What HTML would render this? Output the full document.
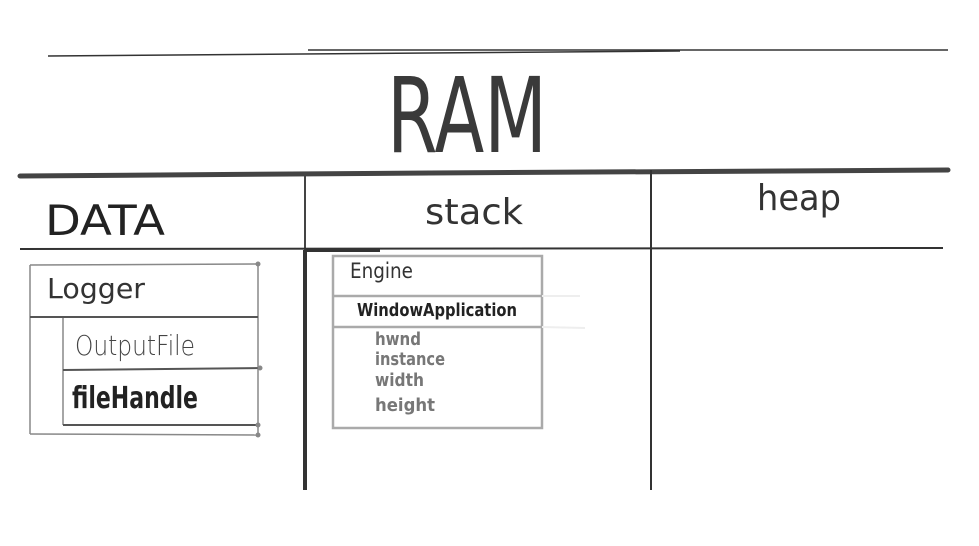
<!DOCTYPE html>
<html><head><meta charset="utf-8"><style>
html,body{margin:0;padding:0;background:#fff;}
svg{display:block;}
text{font-family:"DejaVu Sans","Liberation Sans",sans-serif;}
</style></head><body>
<svg width="979" height="546" viewBox="0 0 979 546" xmlns="http://www.w3.org/2000/svg">
<rect width="979" height="546" fill="#fff"/>
<!-- top lines -->
<line x1="48" y1="56" x2="680" y2="51" stroke="#333" stroke-width="1.5"/>
<line x1="308" y1="50" x2="948" y2="50" stroke="#333" stroke-width="1.5"/>
<!-- RAM -->
<text x="467" y="152" font-size="104" text-anchor="middle" fill="#3a3a3a" font-family="Liberation Sans Narrow, Liberation Sans, sans-serif" textLength="160" lengthAdjust="spacingAndGlyphs">RAM</text>
<!-- thick line -->
<path d="M20 176 L430 173 L948 170" stroke="#444" stroke-width="5" fill="none" stroke-linecap="round"/>
<!-- verticals -->
<line x1="305" y1="176" x2="305" y2="250" stroke="#444" stroke-width="2"/>
<line x1="305" y1="250" x2="305" y2="490" stroke="#333" stroke-width="4"/>
<line x1="651" y1="170" x2="651" y2="490" stroke="#333" stroke-width="2"/>
<!-- header bottom line -->
<line x1="20" y1="249" x2="943" y2="248" stroke="#333" stroke-width="2"/>
<line x1="305" y1="250" x2="380" y2="250" stroke="#333" stroke-width="4"/>
<!-- headers -->
<text x="45" y="235" font-size="42" fill="#222" textLength="120" lengthAdjust="spacingAndGlyphs">DATA</text>
<text x="425" y="224" font-size="36" fill="#333" textLength="98" lengthAdjust="spacingAndGlyphs">stack</text>
<text x="757" y="210" font-size="36" fill="#333" textLength="84" lengthAdjust="spacingAndGlyphs">heap</text>
<!-- Logger box -->
<g stroke="#888" stroke-width="1.5" fill="none">
<line x1="30" y1="265" x2="258" y2="264"/>
<line x1="30" y1="265" x2="30" y2="434"/>
<line x1="30" y1="434" x2="258" y2="435"/>
<line x1="258" y1="264" x2="258" y2="435"/>
<line x1="63" y1="317" x2="63" y2="425"/>
</g>
<line x1="30" y1="317" x2="258" y2="317" stroke="#555" stroke-width="2"/>
<line x1="63" y1="370" x2="262" y2="368" stroke="#555" stroke-width="2"/>
<line x1="63" y1="425" x2="258" y2="425" stroke="#555" stroke-width="2"/>
<circle cx="258" cy="264" r="2.5" fill="#888"/><circle cx="260" cy="368" r="2.5" fill="#888"/><circle cx="258" cy="425" r="2.5" fill="#888"/><circle cx="258" cy="435" r="2.5" fill="#888"/>
<text x="47" y="298" font-size="28" fill="#333" textLength="98" lengthAdjust="spacingAndGlyphs">Logger</text>
<text x="75" y="355" font-size="28" fill="#444" font-weight="300" textLength="120" lengthAdjust="spacingAndGlyphs">OutputFile</text>
<text x="72" y="408" font-size="30" fill="#222" font-weight="bold" textLength="126" lengthAdjust="spacingAndGlyphs">fileHandle</text>
<!-- Engine box -->
<g stroke="#aaa" stroke-width="2.5" fill="none">
<rect x="333" y="256" width="209" height="172"/>
<line x1="333" y1="296" x2="542" y2="296"/>
<line x1="333" y1="327" x2="542" y2="327"/>
</g>
<line x1="542" y1="296" x2="580" y2="296" stroke="#eee" stroke-width="2"/>
<line x1="542" y1="327" x2="585" y2="328" stroke="#eee" stroke-width="2"/>
<text x="350" y="278" font-size="21" fill="#333" textLength="63" lengthAdjust="spacingAndGlyphs">Engine</text>
<text x="357" y="316" font-size="18" fill="#222" font-weight="bold" textLength="160" lengthAdjust="spacingAndGlyphs">WindowApplication</text>
<g fill="#777" font-size="18" font-weight="bold">
<text x="375" y="345" textLength="46" lengthAdjust="spacingAndGlyphs">hwnd</text>
<text x="375" y="365" textLength="70" lengthAdjust="spacingAndGlyphs">instance</text>
<text x="375" y="386" textLength="49" lengthAdjust="spacingAndGlyphs">width</text>
<text x="375" y="411" textLength="60" lengthAdjust="spacingAndGlyphs">height</text>
</g>
</svg>
</body></html>
